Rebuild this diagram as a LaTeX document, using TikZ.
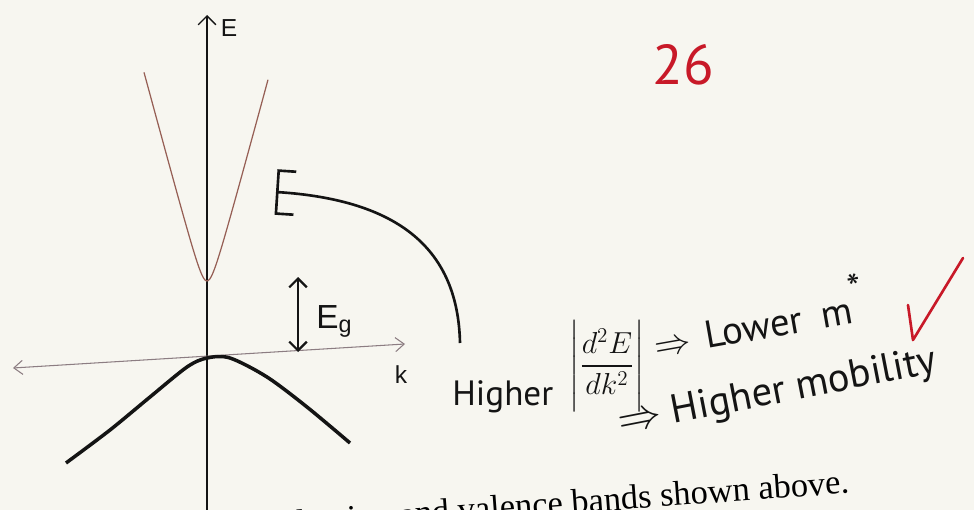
\documentclass[tikz,border=0pt]{standalone}
\usepackage{amsmath}
\usepackage{fontspec}
\setmainfont{Liberation Serif}
\setsansfont{Liberation Sans}
\newfontfamily\handfont{PT Sans}
\usetikzlibrary{arrows.meta}
\definecolor{paper}{RGB}{247,246,240}
\definecolor{ink}{RGB}{20,20,20}
\definecolor{cband}{RGB}{150,95,85}
\definecolor{kaxis}{RGB}{140,125,130}
\definecolor{marker}{RGB}{200,25,40}

\begin{document}
\begin{tikzpicture}[x=0.02cm, y=-0.02cm,
    >={Straight Barb[length=5pt, width=10pt]},
    axis/.style={draw=ink, line width=0.8pt},
    printed/.style={text=ink, font=\sffamily\fontsize{14}{16}\selectfont, inner sep=0pt},
    hand/.style={text=ink, font=\handfont\fontsize{22}{25}\selectfont, inner sep=0pt}]
  \useasboundingbox[fill=paper] (0,0) rectangle (974,510);
  \clip (0,0) rectangle (974,510);

  % axes
  \coordinate (ebot) at (207,515);
  \coordinate (etop) at (207,15);
  \coordinate (kleft) at (13,368);
  \coordinate (kright) at (405,344);
  \draw[axis, ->] (ebot) -- (etop);
  \draw[draw=kaxis, line width=0.6pt, <->, >={Straight Barb[length=5pt, width=8pt]}] (kleft) -- (kright);
  \node[printed] (elabel) at (229,28) {E};
  \node[printed] (klabel) at (401,375) {k};

  % bands
  \draw[cband, line width=0.7pt] plot[domain=-63:61, samples=80]
    ({207+\x}, {281-25.9*(sqrt(1+(\x/7)^2)-1)});
  \draw[ink, line width=2pt] plot[smooth, tension=0.5] coordinates {
    (66,463) (110,430) (150,397) (187,367) (207,358) (230,358) (267,377) (307,407) (350,443)};

  % gap
  \coordinate (gaptop) at (298,277);
  \coordinate (gapbot) at (298,352);
  \draw[ink, line width=1.3pt, <->] (gaptop) -- (gapbot);
  \node[printed, font=\sffamily\fontsize{19}{21}\selectfont, anchor=base west] (eg) at (316,328) {E\textsubscript{g}};

  % handwritten answer
  \node[hand, font=\handfont\fontsize{20}{23}\selectfont, anchor=base west] (hi) at (452,405) {Higher};
  \node[hand, font=\handfont\fontsize{17}{20}\selectfont] (deriv) at (607,366)
    {$\Biggl|\dfrac{d^2E}{dk^2}\Biggr|$};
  \node[hand, anchor=base west, rotate=10] (lower) at (656,358)
    {$\Rightarrow$\hspace{0.4em}Lower\hspace{0.5em}m\raisebox{0.55em}{*}};
  \node[hand, font=\handfont\fontsize{23}{26}\selectfont, anchor=base west, rotate=11] (mob) at (620,434)
    {$\Rightarrow$ Higher mobility};
  \node[hand, text=marker, font=\handfont\fontsize{32}{34}\selectfont] (score) at (683,65) {26};

  % curl back to the conduction band
  \coordinate (curl) at (460,343);
  \coordinate (band) at (276,192);
  \draw[ink, line width=1.5pt, -{Bracket[width=26pt, length=10pt]}]
    (curl) .. controls (458,250) and (400,200) .. (band);

  % tick
  \draw[marker, line width=1.5pt, line cap=round, line join=round] (908,305) -- (913,340) -- (963,258);

  % question text, cut by the page edge
  \node[font=\fontsize{19.6}{22}\selectfont, anchor=base east, rotate=4.2, inner sep=0pt] (question)
    at (850,493) {conduction and valence bands shown above.};
\end{tikzpicture}
\end{document}
